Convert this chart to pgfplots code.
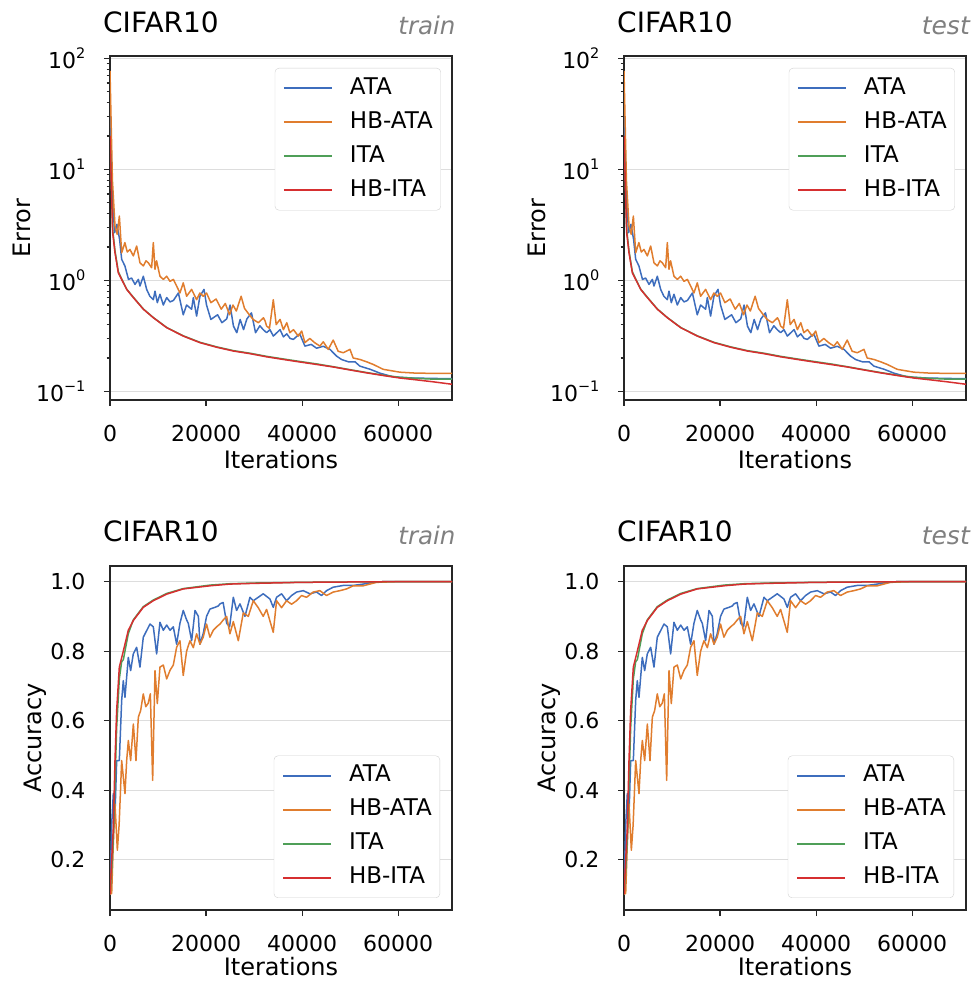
\documentclass[border=0pt]{standalone}
\usepackage{pgfplots}
\usepackage{pgfplotstable}
\pgfplotsset{compat=1.18}
\usepackage{fontspec}
\setmainfont{DejaVu Sans}
\definecolor{cblue}{HTML}{3D6DBD}
\definecolor{corange}{HTML}{E07D2E}
\definecolor{cgreen}{HTML}{4F9F58}
\definecolor{cred}{HTML}{D62F30}
\definecolor{framec}{HTML}{262626}
\definecolor{gridc}{HTML}{DDDDDD}

\pgfplotstableread{
x y
0 30
480 6
960 2.69
1440 3.2
2000 2.34
2430 1.55
3100 1.35
3850 1.02
4500 1.05
5200 0.92
5900 1.02
6240 0.89
6940 1.09
7630 0.83
8300 0.72
9020 0.67
9370 0.8
9850 0.63
10400 0.75
11100 0.6
11800 0.7
12500 0.64
13200 0.66
14240 0.77
15250 0.49
15950 0.6
16990 0.55
17350 0.7
18030 0.477
18720 0.72
19570 0.83
20100 0.6
21000 0.445
22400 0.49
23300 0.416
24300 0.45
25000 0.6
25700 0.388
26400 0.338
27100 0.445
27800 0.36
28500 0.45
29450 0.51
30300 0.338
31200 0.39
31900 0.36
32600 0.338
33300 0.36
34000 0.315
35400 0.36
36100 0.31
36800 0.33
37500 0.3
38160 0.294
39500 0.33
40580 0.256
41900 0.265
43000 0.245
44400 0.255
45800 0.239
47170 0.208
48200 0.194
49600 0.185
51000 0.185
52020 0.169
54200 0.158
56200 0.146
59000 0.135
63000 0.132
67000 0.131
71200 0.13
}\errATA

\pgfplotstableread{
x y
0 77
500 8
1040 3.1
1500 2.6
1950 3.8
2430 1.77
3100 2.19
3600 1.8
4160 1.9
4860 1.66
5550 2.04
6240 1.44
6940 1.35
7500 1.5
7980 1.44
8670 1.30
9020 2.19
9370 1.26
9700 1.5
10400 1.09
11100 1.02
11800 1.09
12500 0.98
12830 1.0
13200 1.02
13870 0.89
14560 0.77
15250 0.95
15950 0.72
16990 0.83
18030 0.67
18720 0.77
19420 0.72
20100 0.77
21000 0.63
22100 0.68
23160 0.55
24000 0.62
24900 0.49
25600 0.6
26300 0.53
27300 0.72
28000 0.56
28700 0.51
29800 0.445
30880 0.416
31950 0.46
32300 0.43
32600 0.388
33200 0.37
34000 0.67
34600 0.4
35400 0.445
36100 0.36
36800 0.416
37440 0.338
38200 0.36
39200 0.315
39900 0.35
40580 0.275
41600 0.3
42600 0.275
43700 0.256
44400 0.28
45440 0.239
46470 0.29
47500 0.23
48560 0.223
49960 0.239
50630 0.20
52020 0.194
53400 0.185
54800 0.175
56900 0.158
60370 0.149
63840 0.146
71200 0.145
}\errHBATA

\pgfplotstableread{
x y
0 20
550 2.9
1040 1.85
1730 1.2
2430 1.03
3470 0.835
4860 0.705
6940 0.553
9020 0.463
11800 0.377
15250 0.317
18720 0.277
22200 0.252
25700 0.233
29100 0.221
32600 0.207
36100 0.196
39570 0.186
43000 0.177
46470 0.167
49960 0.157
53400 0.148
56900 0.140
60370 0.134
63840 0.131
67300 0.129
71200 0.129
}\errITA

\pgfplotstableread{
x y
0 20
550 2.7
1040 1.77
1730 1.17
2430 1.02
3470 0.83
4860 0.70
6940 0.55
9020 0.461
11800 0.375
15250 0.315
18720 0.275
22200 0.25
25700 0.231
29100 0.219
32600 0.205
36100 0.194
39570 0.184
43000 0.175
46470 0.166
49960 0.156
53400 0.147
56900 0.139
60370 0.132
63840 0.127
67300 0.122
71200 0.116
}\errHBITA

\pgfplotstableread{
x y
0 0.12
350 0.3
690 0.39
1040 0.33
1390 0.485
1940 0.485
2430 0.658
2770 0.715
3120 0.667
3810 0.782
4300 0.744
4850 0.792
5550 0.811
6240 0.754
6930 0.84
7630 0.859
8320 0.878
9020 0.87
9710 0.792
10400 0.883
11100 0.86
11800 0.875
12500 0.86
13180 0.87
13870 0.82
14560 0.88
15250 0.917
15950 0.89
16300 0.88
17000 0.83
17700 0.917
18400 0.90
18730 0.82
19400 0.85
20100 0.90
20800 0.921
21850 0.926
22550 0.93
22900 0.936
23550 0.94
24300 0.88
24900 0.87
25670 0.955
26360 0.917
27060 0.936
28100 0.90
29140 0.955
29830 0.945
30870 0.955
31900 0.965
33300 0.95
33990 0.926
34680 0.955
35720 0.965
36760 0.945
37800 0.96
38840 0.97
40230 0.974
41610 0.965
43000 0.97
44040 0.96
45080 0.974
46470 0.984
48550 0.989
50640 0.989
52720 0.993
54800 0.998
57000 1.0
71200 1.0
}\accATA

\pgfplotstableread{
x y
0 0.10
350 0.103
690 0.247
1040 0.36
1530 0.227
1900 0.3
2430 0.485
3120 0.39
3470 0.485
3820 0.543
4300 0.485
4860 0.59
5410 0.485
5900 0.61
6380 0.629
6930 0.677
7450 0.64
7950 0.65
8400 0.677
8880 0.428
9370 0.744
9850 0.649
10400 0.754
11100 0.76
11800 0.72
12500 0.745
13180 0.76
13870 0.811
14560 0.83
15250 0.73
15950 0.8
16650 0.83
17350 0.81
18030 0.85
18730 0.82
19400 0.84
20100 0.878
20800 0.84
21500 0.86
22200 0.87
22900 0.878
23600 0.89
24280 0.90
24970 0.85
25670 0.885
26710 0.83
27750 0.91
28790 0.90
29830 0.945
30870 0.925
31900 0.90
32600 0.92
33990 0.854
34680 0.945
35720 0.925
36760 0.945
37800 0.935
38840 0.945
39880 0.96
40920 0.955
42310 0.97
43700 0.974
45080 0.96
46470 0.97
47860 0.974
49250 0.979
50640 0.988
52720 0.988
54110 0.993
55500 0.998
60000 1.0
71200 1.0
}\accHBATA

\pgfplotstableread{
x y
0 0.10
350 0.17
690 0.26
1040 0.42
1390 0.58
1940 0.72
2430 0.77
2770 0.775
3810 0.85
4850 0.89
6930 0.928
9010 0.947
11800 0.966
15250 0.980
20800 0.990
25000 0.994
30000 0.996
40000 0.998
50000 0.999
60000 1.0
71200 1.0
}\accITA

\pgfplotstableread{
x y
0 0.10
350 0.2
690 0.29
1040 0.485
1390 0.63
1940 0.754
2770 0.80
3810 0.86
4850 0.888
6930 0.926
9010 0.945
11800 0.964
15250 0.979
20800 0.988
25000 0.993
30000 0.995
40000 0.998
50000 0.999
60000 1.0
71200 1.0
}\accHBITA

\newcommand{\tenp}[1]{10\raisebox{10pt}{\fontsize{14.5}{15}\selectfont #1}}

\pgfplotsset{
  cifarpanel/.style={
    scale only axis, width=342pt, height=344pt,
    xmin=0, xmax=71200,
    axis line style={draw=framec, line width=1.2pt},
    every tick/.style={draw=framec, line width=1.2pt},
    major tick length=6pt, minor tick length=3.5pt,
    tick align=outside, xtick pos=left, ytick pos=left,
    ymajorgrids, grid style={draw=gridc, line width=1.2pt},
    xtick={0,20000,40000,60000}, xticklabels={0,20000,40000,60000},
    scaled x ticks=false,
    xticklabel style={font=\fontsize{22}{26}\selectfont},
    yticklabel style={font=\fontsize{22}{26}\selectfont},
    xticklabel shift=16pt,
    yticklabel shift=15pt,
    xlabel=Iterations,
    xlabel style={at={(axis description cs:0.5,-0.2)}, anchor=base, font=\fontsize{24}{28}\selectfont},
    every axis plot/.append style={line width=1.5pt, line join=round},
    legend cell align=left,
    legend image code/.code={\draw[##1] (0pt,0pt) -- (48pt,0pt);},
    legend style={font=\fontsize{23}{27}\selectfont, draw=black!18,
      rounded corners=4pt, fill=white,
      inner xsep=8pt, inner ysep=9pt, row sep=12pt, column sep=17pt,
      nodes={inner sep=0pt, text height=17pt, text depth=5pt}},
  },
}
\newcommand{\legendset}{%
  \addlegendimage{draw=cblue, line width=2pt}\addlegendentry{ATA}
  \addlegendimage{draw=corange, line width=2pt}\addlegendentry{HB-ATA}
  \addlegendimage{draw=cgreen, line width=2pt}\addlegendentry{ITA}
  \addlegendimage{draw=cred, line width=2pt}\addlegendentry{HB-ITA}
}

\begin{document}
\begin{tikzpicture}
\path[use as bounding box] (0pt,0pt) rectangle (976pt,982pt);

% top left
\begin{axis}[cifarpanel, ymode=log, ymin=0.0837, ymax=105,
    ytick={0.1,1,10,100},
    yticklabels={\tenp{\char"2212 1},\tenp{0},\tenp{1},\tenp{2}},
    ylabel=Error,
    ylabel style={at={(axis description cs:-0.231,0.5)}, anchor=base, font=\fontsize{24}{28}\selectfont},
    legend style={at={(axis description cs:0.9678,0.9651)}, anchor=north east},
    at={(110pt,582pt)}, anchor=south west]
\legendset
\addplot[cblue, forget plot] table {\errATA};
\addplot[corange, forget plot] table {\errHBATA};
\addplot[cgreen, forget plot] table {\errITA};
\addplot[cred, forget plot] table {\errHBITA};
\end{axis}

% top right
\begin{axis}[cifarpanel, ymode=log, ymin=0.0837, ymax=105,
    ytick={0.1,1,10,100},
    yticklabels={\tenp{\char"2212 1},\tenp{0},\tenp{1},\tenp{2}},
    ylabel=Error,
    ylabel style={at={(axis description cs:-0.231,0.5)}, anchor=base, font=\fontsize{24}{28}\selectfont},
    legend style={at={(axis description cs:0.9678,0.9651)}, anchor=north east},
    at={(624pt,582pt)}, anchor=south west]
\legendset
\addplot[cblue, forget plot] table {\errATA};
\addplot[corange, forget plot] table {\errHBATA};
\addplot[cgreen, forget plot] table {\errITA};
\addplot[cred, forget plot] table {\errHBITA};
\end{axis}

% bottom left
\begin{axis}[cifarpanel, ymin=0.055, ymax=1.045,
    ytick={0.2,0.4,0.6,0.8,1.0},
    yticklabels={0.2,0.4,0.6,0.8,1.0},
    ylabel=Accuracy,
    ylabel style={at={(axis description cs:-0.199,0.5)}, anchor=base, font=\fontsize{24}{28}\selectfont},
    xlabel style={at={(axis description cs:0.5,-0.19)}},
    legend style={at={(axis description cs:0.965,0.0349)}, anchor=south east},
    at={(110pt,72pt)}, anchor=south west]
\legendset
\addplot[cblue, forget plot] table {\accATA};
\addplot[corange, forget plot] table {\accHBATA};
\addplot[cgreen, forget plot] table {\accITA};
\addplot[cred, forget plot] table {\accHBITA};
\end{axis}

% bottom right
\begin{axis}[cifarpanel, ymin=0.055, ymax=1.045,
    ytick={0.2,0.4,0.6,0.8,1.0},
    yticklabels={0.2,0.4,0.6,0.8,1.0},
    ylabel=Accuracy,
    ylabel style={at={(axis description cs:-0.199,0.5)}, anchor=base, font=\fontsize{24}{28}\selectfont},
    xlabel style={at={(axis description cs:0.5,-0.19)}},
    legend style={at={(axis description cs:0.965,0.0349)}, anchor=south east},
    at={(624pt,72pt)}, anchor=south west]
\legendset
\addplot[cblue, forget plot] table {\accATA};
\addplot[corange, forget plot] table {\accHBATA};
\addplot[cgreen, forget plot] table {\accITA};
\addplot[cred, forget plot] table {\accHBITA};
\end{axis}

\node[anchor=base west, inner sep=0pt, font=\fontsize{28}{32}\selectfont] at (103pt,949.3pt) {CIFAR10};
\node[anchor=base east, inner sep=0pt, text=black!50, font=\fontsize{24.5}{28}\selectfont\itshape] at (455.7pt,947.7pt) {train};
\node[anchor=base west, inner sep=0pt, font=\fontsize{28}{32}\selectfont] at (617pt,949.7pt) {CIFAR10};
\node[anchor=base east, inner sep=0pt, text=black!50, font=\fontsize{25}{28}\selectfont\itshape] at (970pt,947pt) {test};
\node[anchor=base west, inner sep=0pt, font=\fontsize{28}{32}\selectfont] at (103pt,440.3pt) {CIFAR10};
\node[anchor=base east, inner sep=0pt, text=black!50, font=\fontsize{24.5}{28}\selectfont\itshape] at (455.7pt,437pt) {train};
\node[anchor=base west, inner sep=0pt, font=\fontsize{28}{32}\selectfont] at (617pt,440.3pt) {CIFAR10};
\node[anchor=base east, inner sep=0pt, text=black!50, font=\fontsize{25}{28}\selectfont\itshape] at (970pt,437pt) {test};
\end{tikzpicture}
\end{document}
